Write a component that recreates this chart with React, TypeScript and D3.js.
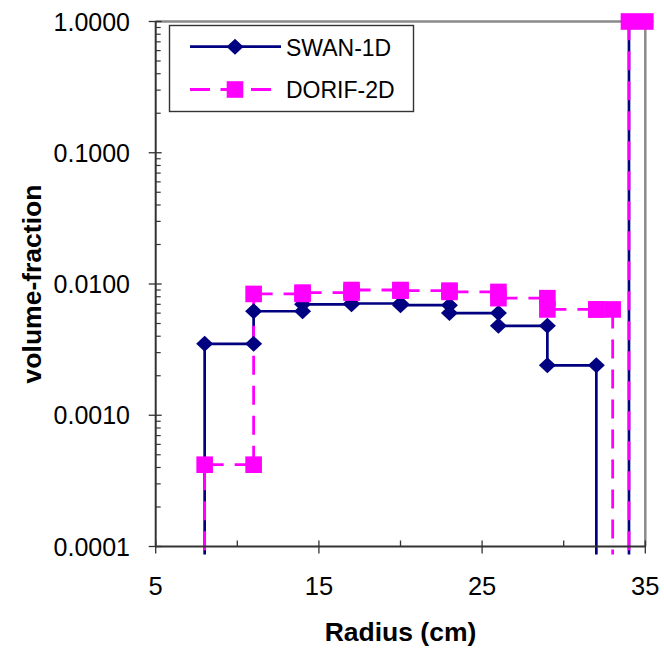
import React from "react";
import * as d3 from "d3";

// ---- Data (0 = below axis range) ----
const swanX = [8, 8, 11, 11, 14, 14, 17, 17, 20, 20, 23, 23, 26, 26, 29, 29, 32, 32, 34, 34, 35];
const swanY = [0, 0.0035, 0.0035, 0.0062, 0.0062, 0.007, 0.007, 0.0071, 0.0071, 0.0069, 0.0069, 0.006, 0.006, 0.0048, 0.0048, 0.0024, 0.0024, 0, 0, 1, 1];

const dorifX = [8, 8, 11, 11, 14, 14, 17, 17, 20, 20, 23, 23, 26, 26, 29, 29, 32, 32, 33, 33, 34, 34, 35];
const dorifY = [0, 0.00042, 0.00042, 0.0084, 0.0084, 0.0086, 0.0086, 0.009, 0.009, 0.0089, 0.0089, 0.0087, 0.0087, 0.0078, 0.0078, 0.0064, 0.0064, 0.0064, 0.0064, 0, 0, 1, 1];

const xTickValues = [5, 10, 15, 20, 25, 30, 35];
const xTickLabels = [5, 15, 25, 35];
const yMajorTicks = [0.0001, 0.001, 0.01, 0.1, 1];
const seriesNames = ["SWAN-1D", "DORIF-2D"];

const W = 664;
const H = 654;
const FONT = "'Liberation Sans', Arial, Helvetica, sans-serif";
const NAVY = "#000080";
const MAGENTA = "#FF00FF";

const x = d3.scaleLinear().domain([5, 35]).range([155.7, 645.3]);
const y = d3.scaleLog().domain([0.0001, 1]).range([546.5, 21.5]);
const FLOOR = 1e-7;
const yv = (v: number) => y(v > 0 ? v : FLOOR);

const yMinor: number[] = [];
for (let k = -4; k < 0; k++) {
  for (let m = 2; m <= 9; m++) yMinor.push(m * Math.pow(10, k));
}

const diamond = (cx: number, cy: number) =>
  `M${cx},${cy - 8} L${cx + 8.5},${cy} L${cx},${cy + 8} L${cx - 8.5},${cy} Z`;

export default function App() {
  const [x0, x1] = x.range();
  const [yb, yt] = y.range();
  const swanPts = swanX.map((d, i) => [x(d), yv(swanY[i])] as [number, number]);
  const dorifPts = dorifX.map((d, i) => [x(d), yv(dorifY[i])] as [number, number]);
  const line = d3.line();

  return (
    <svg width={W} height={H} style={{ position: "absolute", left: 0, top: 0, background: "#fff" }} fontFamily={FONT}>
      <defs>
        <clipPath id="plotclip">
          <rect x={x0 - 2} y={0} width={x1 - x0 + 4} height={yb + 8} />
        </clipPath>
      </defs>
      <rect x={0} y={0} width={W} height={H} fill="#fff" />

      {/* frame top/right */}
      <line x1={x0} y1={yt} x2={x1} y2={yt} stroke="#8a8a8a" strokeWidth={2.5} />
      <line x1={x1} y1={yt} x2={x1} y2={yb} stroke="#8a8a8a" strokeWidth={2.5} />

      {/* y minor ticks */}
      {yMinor.map((v, i) => (
        <line key={"ym" + i} x1={x0} x2={x0 + 5} y1={y(v)} y2={y(v)} stroke="#333" strokeWidth={1.2} />
      ))}
      {/* y major ticks */}
      {yMajorTicks.map((v, i) => (
        <g key={"yM" + i}>
          <line x1={x0 - 7} x2={x0 + 6} y1={y(v)} y2={y(v)} stroke="#333" strokeWidth={1.3} />
          <text x={130} y={y(v)} dy="0.36em" textAnchor="end" fontSize={25} fill="#000">
            {v.toFixed(4)}
          </text>
        </g>
      ))}
      {/* x ticks */}
      {xTickValues.map((v, i) => {
        const major = xTickLabels.includes(v);
        return (
          <line key={"xt" + i} x1={x(v)} x2={x(v)} y1={yb - 6} y2={major ? yb + 7 : yb} stroke="#333" strokeWidth={1.3} />
        );
      })}
      {xTickLabels.map((v, i) => (
        <text key={"xl" + i} x={x(v)} y={595} textAnchor="middle" fontSize={25.5} fill="#000">
          {v}
        </text>
      ))}

      {/* series lines */}
      <g clipPath="url(#plotclip)">
        <path d={line(swanPts) || ""} fill="none" stroke={NAVY} strokeWidth={2.7} />
        {dorifPts.slice(1).map((p, i) => {
          const q = dorifPts[i];
          return (
            <line key={"ds" + i} x1={q[0]} y1={q[1]} x2={p[0]} y2={p[1]} stroke={MAGENTA} strokeWidth={2.8} strokeDasharray="19,11" />
          );
        })}
      </g>

      {/* axes lines */}
      <line x1={x0} y1={yt} x2={x0} y2={yb} stroke="#333" strokeWidth={2} />
      <line x1={x0} y1={yb} x2={x1} y2={yb} stroke="#333" strokeWidth={2} />

      {/* markers */}
      {swanPts.map((p, i) =>
        swanY[i] > 0 ? <path key={"sm" + i} d={diamond(p[0], p[1])} fill={NAVY} /> : null
      )}
      {dorifPts.map((p, i) =>
        dorifY[i] > 0 ? <rect key={"dm" + i} x={p[0] - 8.3} y={p[1] - 8.3} width={16.6} height={16.6} fill={MAGENTA} /> : null
      )}

      {/* legend */}
      <rect x={169.5} y={25.5} width={244} height={86} fill="#fff" stroke="#333" strokeWidth={1.4} />
      <line x1={190} x2={281} y1={46.7} y2={46.7} stroke={NAVY} strokeWidth={2.7} />
      <path d={diamond(235, 46.7)} fill={NAVY} />
      <line x1={190} x2={281} y1={89.5} y2={89.5} stroke={MAGENTA} strokeWidth={2.8} strokeDasharray="20,10.5" />
      <rect x={235 - 8.3} y={89.5 - 8.3} width={16.6} height={16.6} fill={MAGENTA} />
      <text x={286} y={55.5} fontSize={23} fill="#000">{seriesNames[0]}</text>
      <text x={286} y={97.5} fontSize={23} fill="#000">{seriesNames[1]}</text>

      {/* axis titles */}
      <text x={(x0 + x1) / 2} y={641} textAnchor="middle" fontSize={26.5} fontWeight="bold" fill="#000">
        Radius (cm)
      </text>
      <text transform={`translate(41,${(yb + yt) / 2}) rotate(-90)`} textAnchor="middle" fontSize={26.5} fontWeight="bold" fill="#000">
        volume-fraction
      </text>
    </svg>
  );
}
